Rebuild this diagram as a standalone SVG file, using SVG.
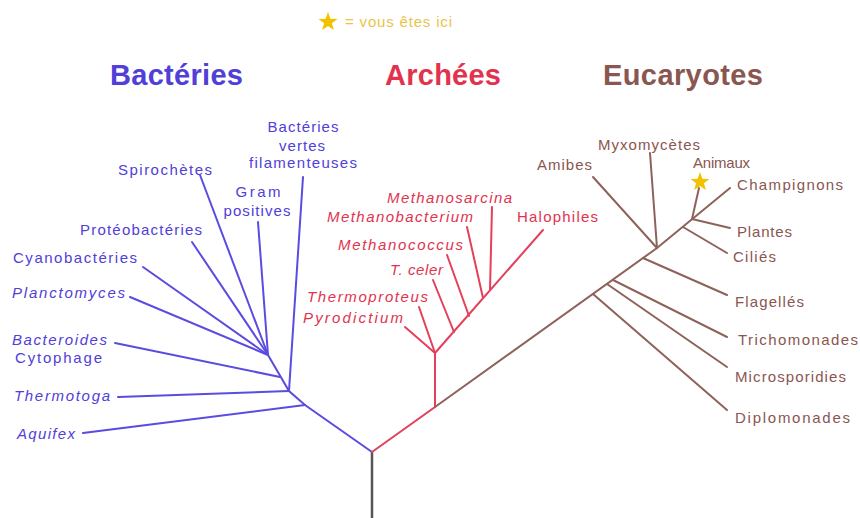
<svg xmlns="http://www.w3.org/2000/svg" width="860" height="518" viewBox="0 0 860 518">
<style>
text{font-family:"Liberation Sans",Arial,sans-serif;}
.grp{font-size:29px;font-weight:bold;}
.lbl{font-size:15px;}
.it{font-style:italic;}
.b{fill:#5040d8;}
.a{fill:#e2324e;}
.e{fill:#8a5650;}
.lb{stroke:#5a4ce0;stroke-width:2;fill:none;stroke-linecap:round;}
.la{stroke:#e4405a;stroke-width:2;fill:none;stroke-linecap:round;}
.le{stroke:#8e625a;stroke-width:2;fill:none;stroke-linecap:round;}
.star{fill:#f2c200;}
</style>
<defs>
<polygon id="star" points="0,-10 2.4,-3.3 9.5,-3.1 3.9,1.3 5.9,8.1 0,4 -5.9,8.1 -3.9,1.3 -9.5,-3.1 -2.4,-3.3"/>
</defs>
<rect width="860" height="518" fill="#ffffff"/>

<g id="legend">
<use href="#star" class="star" x="328" y="22"/>
<text x="345" y="27" class="lbl" fill="#e8c44a" textLength="107">= vous êtes ici</text>
</g>

<g id="titles">
<text x="110" y="85" class="grp b" textLength="133">Bactéries</text>
<text x="385" y="85" class="grp a" textLength="116">Archées</text>
<text x="603" y="85" class="grp e" textLength="160">Eucaryotes</text>
</g>

<g id="connectors">
<path d="M372,518 V452" stroke="#555" stroke-width="2.5" fill="none"/>
<!-- bacteria -->
<path class="lb" d="M372,452 L305,405 L289,391 L268,355"/>
<path class="lb" d="M305,405 L83,433"/>
<path class="lb" d="M289,391 L118,397"/>
<path class="lb" d="M289,391 L303,177"/>
<path class="lb" d="M280,377 L115,343"/>
<path class="lb" d="M268,355 L200,175"/>
<path class="lb" d="M268,355 L258,222"/>
<path class="lb" d="M268,355 L192,242"/>
<path class="lb" d="M268,355 L143,267"/>
<path class="lb" d="M268,355 L130,297"/>
<!-- archaea -->
<path class="la" d="M372,452 L435,407 L435,353 L543,230"/>
<path class="la" d="M435,353 L405,327"/>
<path class="la" d="M435,353 L419,307"/>
<path class="la" d="M454,332 L433,280"/>
<path class="la" d="M469,316 L447,255"/>
<path class="la" d="M483,298 L467,227"/>
<path class="la" d="M490,290 L492,207"/>
<!-- eukaryotes -->
<path class="le" d="M435,407 L657,248 L730,188"/>
<path class="le" d="M657,248 L593,177"/>
<path class="le" d="M657,248 L650,153"/>
<path class="le" d="M683,227 L727,253"/>
<path class="le" d="M692,219 L730,228"/>
<path class="le" d="M692,219 L699,188"/>
<path class="le" d="M593,294 L727,410"/>
<path class="le" d="M607,284 L727,367"/>
<path class="le" d="M613,280 L727,337"/>
<path class="le" d="M643,258 L727,295"/>
</g>

<g id="bacteries">
<g id="n-vertes"><text class="lbl b" text-anchor="middle"><tspan x="303" y="132" textLength="71">Bactéries</tspan><tspan x="302" y="151" textLength="46">vertes</tspan><tspan x="303" y="168" textLength="108">filamenteuses</tspan></text></g>
<g id="n-spiro"><text x="118" y="175" class="lbl b" textLength="94">Spirochètes</text></g>
<g id="n-gram"><text class="lbl b" text-anchor="middle"><tspan x="258" y="197" textLength="45">Gram</tspan><tspan x="257" y="216" textLength="67">positives</tspan></text></g>
<g id="n-proteo"><text x="80" y="235" class="lbl b" textLength="122">Protéobactéries</text></g>
<g id="n-cyano"><text x="13" y="263" class="lbl b" textLength="124">Cyanobactéries</text></g>
<g id="n-plancto"><text x="12" y="298" class="lbl b it" textLength="113">Planctomyces</text></g>
<g id="n-bactero"><text x="12" y="345" class="lbl b it" textLength="95">Bacteroides</text><text x="15" y="363" class="lbl b" textLength="87">Cytophage</text></g>
<g id="n-thermotoga"><text x="14" y="401" class="lbl b it" textLength="96">Thermotoga</text></g>
<g id="n-aquifex"><text x="17" y="439" class="lbl b it" textLength="58">Aquifex</text></g>
</g>

<g id="archees">
<g id="n-msarcina"><text x="387" y="203" class="lbl a it" textLength="125">Methanosarcina</text></g>
<g id="n-mbact"><text x="327" y="222" class="lbl a it" textLength="146">Methanobacterium</text></g>
<g id="n-mcoccus"><text x="338" y="250" class="lbl a it" textLength="125">Methanococcus</text></g>
<g id="n-tceler"><text x="390" y="275" class="lbl a it" textLength="53">T. celer</text></g>
<g id="n-thermoproteus"><text x="307" y="302" class="lbl a it" textLength="121">Thermoproteus</text></g>
<g id="n-pyro"><text x="303" y="323" class="lbl a it" textLength="100">Pyrodictium</text></g>
<g id="n-halo"><text x="517" y="222" class="lbl a" textLength="81">Halophiles</text></g>
</g>

<g id="eucaryotes">
<g id="n-amibes"><text x="537" y="170" class="lbl e" textLength="55">Amibes</text></g>
<g id="n-myxo"><text x="598" y="150" class="lbl e" textLength="102">Myxomycètes</text></g>
<g id="n-animaux"><text x="693" y="168" class="lbl e" textLength="57">Animaux</text><use href="#star" class="star" x="700" y="182"/></g>
<g id="n-champ"><text x="737" y="190" class="lbl e" textLength="106">Champignons</text></g>
<g id="n-plantes"><text x="737" y="237" class="lbl e" textLength="55">Plantes</text></g>
<g id="n-cilies"><text x="733" y="262" class="lbl e" textLength="43">Ciliés</text></g>
<g id="n-flag"><text x="735" y="307" class="lbl e" textLength="69">Flagellés</text></g>
<g id="n-tricho"><text x="738" y="345" class="lbl e" textLength="120">Trichomonades</text></g>
<g id="n-micro"><text x="735" y="382" class="lbl e" textLength="111">Microsporidies</text></g>
<g id="n-diplo"><text x="735" y="423" class="lbl e" textLength="115">Diplomonades</text></g>
</g>
</svg>
